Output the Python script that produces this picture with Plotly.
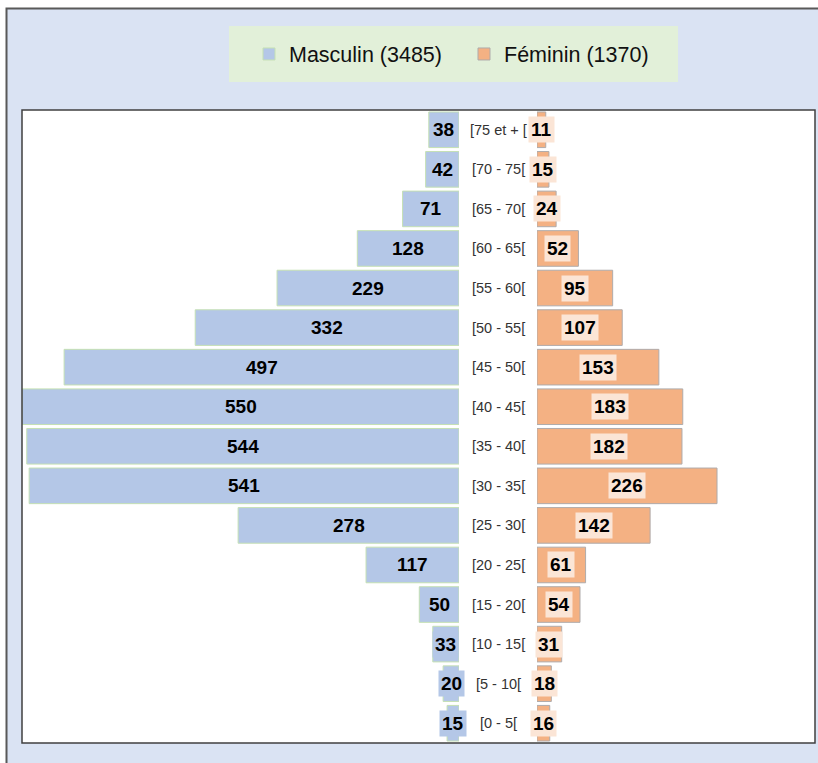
import plotly.graph_objects as go

# tranches d'âge, du bas vers le haut
age_groups = ["[0 - 5[", "[5 - 10[", "[10 - 15[", "[15 - 20[", "[20 - 25[", "[25 - 30[",
              "[30 - 35[", "[35 - 40[", "[40 - 45[", "[45 - 50[", "[50 - 55[", "[55 - 60[",
              "[60 - 65[", "[65 - 70[", "[70 - 75[", "[75 et + ["]
male = [15, 20, 33, 50, 117, 278, 541, 544, 550, 497, 332, 229, 128, 71, 42, 38]
female = [16, 18, 31, 54, 61, 142, 226, 182, 183, 153, 107, 95, 52, 24, 15, 11]

male_name = f"Masculin ({sum(male)})"
female_name = f"Féminin ({sum(female)})"

MALE_COL = "#B4C7E7"
FEMALE_COL = "#F4B183"
FEMALE_LBL = "#FBE5D6"

# zone de tracé : x 22..815, y 110..743
W, H = 793, 633
def px(x):
    return (x - 22) / W
def py(y):
    return (743 - y) / H

d1 = px(459)
d2 = px(537)

fig = go.Figure()
fig.add_trace(go.Bar(y=age_groups, x=male, orientation="h", name=male_name,
                     marker=dict(color=MALE_COL, line=dict(color="#C5E0B4", width=1)),
                     xaxis="x", yaxis="y", hoverinfo="skip"))
fig.add_trace(go.Bar(y=age_groups, x=female, orientation="h", name=female_name,
                     marker=dict(color=FEMALE_COL, line=dict(color="#AFABAB", width=1)),
                     xaxis="x2", yaxis="y", hoverinfo="skip"))

label_font = dict(family="Liberation Sans", size=19, color="#000000")
annotations = []
for g, m, f in zip(age_groups, male, female):
    annotations.append(dict(x=m / 2, y=g, xref="x", yref="y", text=f"<b>{m}</b>",
                            showarrow=False, font=label_font, bgcolor=MALE_COL, borderpad=2))
    annotations.append(dict(x=f / 2, y=g, xref="x2", yref="y", text=f"<b>{f}</b>",
                            showarrow=False, font=label_font, bgcolor=FEMALE_LBL, borderpad=2))
    annotations.append(dict(x=(d1 + d2) / 2, y=g, xref="paper", yref="y", text=g,
                            showarrow=False, font=dict(family="Liberation Sans", size=14.5, color="#333333")))

shapes = [
    # cadre extérieur
    dict(type="rect", xref="paper", yref="paper", x0=px(6.5), x1=px(840), y0=py(790), y1=py(8.5),
         fillcolor="#DAE3F3", line=dict(color="#595959", width=2), layer="below"),
    # zone de tracé
    dict(type="rect", xref="paper", yref="paper", x0=0, x1=1, y0=0, y1=1,
         fillcolor="white", line=dict(width=0), layer="below"),
    dict(type="rect", xref="paper", yref="paper", x0=0, x1=1, y0=0, y1=1,
         line=dict(color="#404040", width=1.5), layer="above"),
    # fond de la légende
    dict(type="rect", xref="paper", yref="paper", x0=px(229), x1=px(678), y0=py(82), y1=py(26),
         fillcolor="#E2F0D9", line=dict(width=0), layer="below"),
]

fig.update_layout(
    width=818, height=763,
    margin=dict(l=22, r=3, t=110, b=20),
    paper_bgcolor="white", plot_bgcolor="rgba(0,0,0,0)",
    barmode="overlay", bargap=0.1,
    xaxis=dict(domain=[0, d1], range=[550, 0], visible=False, fixedrange=True),
    xaxis2=dict(domain=[d2, 1], range=[0, 349], visible=False, fixedrange=True),
    yaxis=dict(categoryorder="array", categoryarray=age_groups, visible=False, fixedrange=True),
    legend=dict(orientation="h", x=px(464), y=py(54), xanchor="center", yanchor="middle",
                bgcolor="rgba(0,0,0,0)", font=dict(family="Liberation Sans", size=21.5, color="#111111"),
                itemwidth=30, itemclick=False, itemdoubleclick=False, entrywidth=170),
    annotations=annotations,
    shapes=shapes,
    showlegend=True,
)

# pas de marge autour du graphique dans la page
fig.write_html("out.html", config={"displayModeBar": False},
               post_script="document.body.style.margin='0';document.body.style.overflow='hidden';")
